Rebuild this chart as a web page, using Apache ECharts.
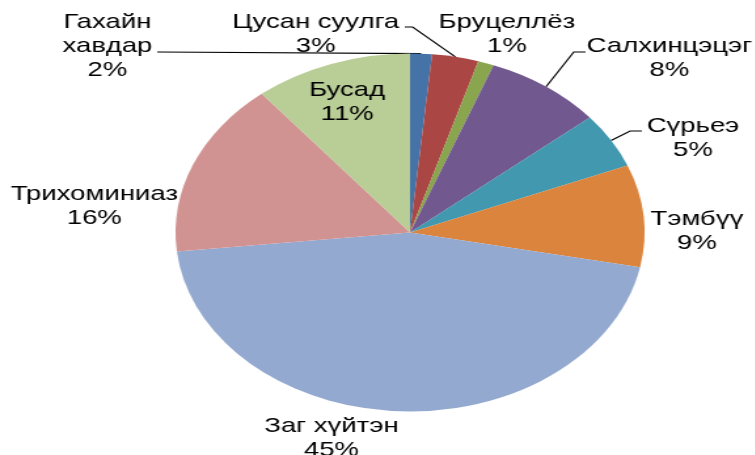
<!DOCTYPE html>
<html>
<head>
<meta charset="utf-8">
<script src="https://cdn.jsdelivr.net/npm/echarts@6/dist/echarts.min.js"></script>
<style>
  html, body { margin: 0; padding: 0; background: #fff; overflow: hidden; }
  #wrap { width: 755px; height: 455px; overflow: hidden; }
  #chart { height: 455px; transform-origin: 0 0; }
</style>
</head>
<body>
<div id="wrap"><div id="chart"></div></div>
<script>
// categories and shares (%), clockwise from 12 o'clock
const diseases = ['Гахайн\nхавдар', 'Цусан суулга', 'Бруцеллёз', 'Салхинцэцэг', 'Сүрьеэ', 'Тэмбүү', 'Заг хүйтэн', 'Трихоминиаз', 'Бусад']
const shares = [1.5, 3.2, 1.1, 8.1, 5.0, 9.2, 45.2, 15.8, 10.9]
const colors = ['#4572A7', '#AA4643', '#89A54E', '#71588F', '#4198AF', '#DB843D', '#93A9CF', '#D19392', '#B9CD96']

// the source picture is a round pie stretched sideways
const stretch = 1.31
const baseW = 755 / stretch

// label centres and leader-line bends (unstretched px)
const labelPlace = [[82, 46], [241, 34], [387, 34], [511, 58], [529, 138], [532, 231], [253, 438], [72, 206], [265, 102]]
const leaderBend = [
  [[121, 52], [120, 52]],
  [[315, 27], [309, 27]],
  null,
  [[438, 52], [447, 52]],
  [[481, 131], [490, 131]],
  null, null, null, null,
]

const el = document.getElementById('chart')
el.style.width = baseW + 'px'
el.style.transform = `scaleX(${stretch})`
const chart = echarts.init(el, null, { renderer: 'canvas' })

chart.setOption({
  animation: false,
  backgroundColor: '#fff',
  color: colors,
  series: [{
    type: 'pie',
    silent: true,
    center: [410 / stretch, 232.5],
    radius: 179,
    startAngle: 90,
    clockwise: true,
    avoidLabelOverlap: false,
    itemStyle: { borderWidth: 0 },
    label: {
      show: true,
      position: 'outside',
      color: '#000',
      fontFamily: 'Liberation Sans, Arial, sans-serif',
      fontSize: 21,
      lineHeight: 24,
      align: 'center',
      formatter: p => `${p.name}\n${Math.round(p.percent)}%`,
    },
    labelLine: {
      show: true,
      length: 10,
      length2: 10,
      lineStyle: { color: '#000', width: 1.2 },
    },
    labelLayout: (params) => {
      const i = params.dataIndex
      const out = {
        x: labelPlace[i][0],
        y: labelPlace[i][1],
        align: 'center',
        verticalAlign: 'middle',
        hideOverlap: false,
      }
      if (leaderBend[i] && params.labelLinePoints)
        out.labelLinePoints = [params.labelLinePoints[0], leaderBend[i][0], leaderBend[i][1]]
      return out
    },
    data: diseases.map((name, i) => ({
      name,
      value: shares[i],
      labelLine: { show: !!leaderBend[i] },
    })),
  }],
})
</script>
</body>
</html>
